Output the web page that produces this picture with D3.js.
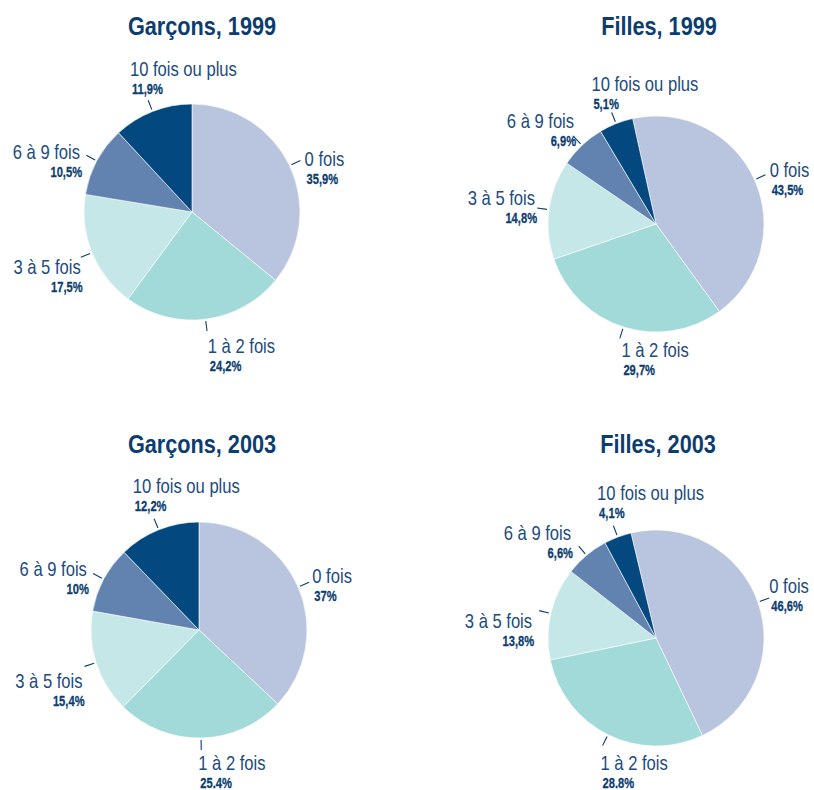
<!DOCTYPE html>
<html>
<head>
<meta charset="utf-8">
<script src="https://cdn.jsdelivr.net/npm/d3@7"></script>
<style>
  body { margin: 0; background: #fff; }
  svg text { font-family: 'Liberation Sans', Arial, sans-serif; }
</style>
</head>
<body>
<div id="vizcontainer"></div>
<script>
const categories = ['0 fois', '1 à 2 fois', '3 à 5 fois', '6 à 9 fois', '10 fois ou plus'];
const titles = ['Garçons, 1999', 'Filles, 1999', 'Garçons, 2003', 'Filles, 2003'];
const garcons1999 = [35.9, 24.2, 17.5, 10.5, 11.9];
const filles1999 = [43.5, 29.7, 14.8, 6.9, 5.1];
const garcons2003 = [37, 25.4, 15.4, 10, 12.2];
const filles2003 = [46.6, 28.8, 13.8, 6.6, 4.1];
const pctLabels = [
  ['35,9%', '24,2%', '17,5%', '10,5%', '11,9%'],
  ['43,5%', '29,7%', '14,8%', '6,9%', '5,1%'],
  ['37%', '25.4%', '15,4%', '10%', '12,2%'],
  ['46,6%', '28.8%', '13,8%', '6,6%', '4,1%']
];

const
  width = 814,
  height = 790,
  radius = 108,
  colors = ['#b9c5de', '#a2dada', '#c6e7e7', '#6283b0', '#03497f'],
  navy = '#0c3d70',
  labelColor = '#1b4b80';

// panel layout: pie centre, title centre, rotation (deg)
const panels = [
  { values: garcons1999, cx: 192, cy: 212, tx: 202, ty: 35, rot: 0 },
  { values: filles1999, cx: 656, cy: 224, tx: 659, ty: 35, rot: -12.5 },
  { values: garcons2003, cx: 199, cy: 630, tx: 202, ty: 453, rot: 0 },
  { values: filles2003, cx: 656, cy: 638, tx: 658, ty: 453, rot: -13.4 }
];

// small hand nudges [dx, dy] for the label text of each slice
const labelNudge = [
  [[1, 1], [3, 4], [0, 14], [-6, -1], [3, -1]],
  [[1, -3], [3, 0], [-2, -7], [1, -14], [1, 2]],
  [[0, -4], [-1, 2], [-2, 18], [-6, -2], [0, -3]],
  [[-3, -10], [-1, 6], [-7, 13], [-7, -12], [5, -3]]
];

const svg = d3.select('#vizcontainer')
  .append('svg')
  .attr('width', width)
  .attr('height', height);

const color = d3.scaleOrdinal()
  .domain(categories)
  .range(colors);

const arc = d3.arc().innerRadius(0).outerRadius(radius);

// condensed look: squeeze text horizontally
function narrowText(parent, str, x, y, sx) {
  return parent.append('text')
    .text(str)
    .attr('transform', `translate(${x},${y}) scale(${sx},1)`);
}

panels.forEach((p, i) => {
  const rot = p.rot * Math.PI / 180;
  const pie = d3.pie()
    .sort(null)
    .value(d => d.value)
    .startAngle(rot)
    .endAngle(rot + 2 * Math.PI);

  const data = categories.map((c, j) => ({ key: c, value: p.values[j], pct: pctLabels[i][j], nudge: labelNudge[i][j] }));
  const arcs = pie(data);

  const g = svg.append('g')
    .attr('transform', `translate(${p.cx},${p.cy})`);

  g.selectAll('path')
    .data(arcs)
    .join('path')
    .attr('d', arc)
    .attr('fill', d => color(d.data.key))
    .attr('stroke', '#ffffff')
    .attr('stroke-width', 0.6);

  // leader lines + labels
  const lbl = g.selectAll('.lbl')
    .data(arcs)
    .join('g')
    .attr('class', 'lbl');

  lbl.each(function (d) {
    const a = (d.startAngle + d.endAngle) / 2;
    const s = Math.sin(a), c = -Math.cos(a);
    const p0 = [s * (radius + 2), c * (radius + 2)];
    const p1 = [s * (radius + 12), c * (radius + 12)];
    const e = [s * (radius + 10), c * (radius + 10)];
    const el = d3.select(this);

    el.append('line')
      .attr('x1', p0[0]).attr('y1', p0[1])
      .attr('x2', p1[0]).attr('y2', p1[1])
      .attr('stroke', navy)
      .attr('stroke-width', 1.1);

    let x, y1, anchor = 'start';
    const cosA = Math.cos(a);
    if (cosA >= 0.8) {          // top
      x = e[0] - 22;
      y1 = e[1] - 25;
    } else if (cosA <= -0.8) {  // bottom
      x = e[0] - 2;
      y1 = e[1] + 20;
    } else if (s > 0) {         // right
      x = e[0] + 5;
      y1 = e[1] + 4;
    } else {                    // left
      x = e[0] - 2;
      y1 = e[1] + 4;
      anchor = 'end';
    }
    x += d.data.nudge[0];
    y1 += d.data.nudge[1];

    narrowText(el, d.data.key, x, y1, 0.83)
      .attr('text-anchor', anchor)
      .attr('font-size', '20px')
      .attr('fill', labelColor);

    narrowText(el, d.data.pct, anchor === 'end' ? x + 2 : x + 2, y1 + 18, 0.72)
      .attr('text-anchor', anchor)
      .attr('font-size', '15.5px')
      .attr('font-weight', 'bold')
      .attr('fill', navy)
      .attr('stroke', navy)
      .attr('stroke-width', 0.3);
  });

  narrowText(svg, titles[i], p.tx, p.ty, 0.85)
    .attr('text-anchor', 'middle')
    .attr('font-size', '25.5px')
    .attr('font-weight', 'bold')
    .attr('fill', navy);
});
</script>
</body>
</html>
